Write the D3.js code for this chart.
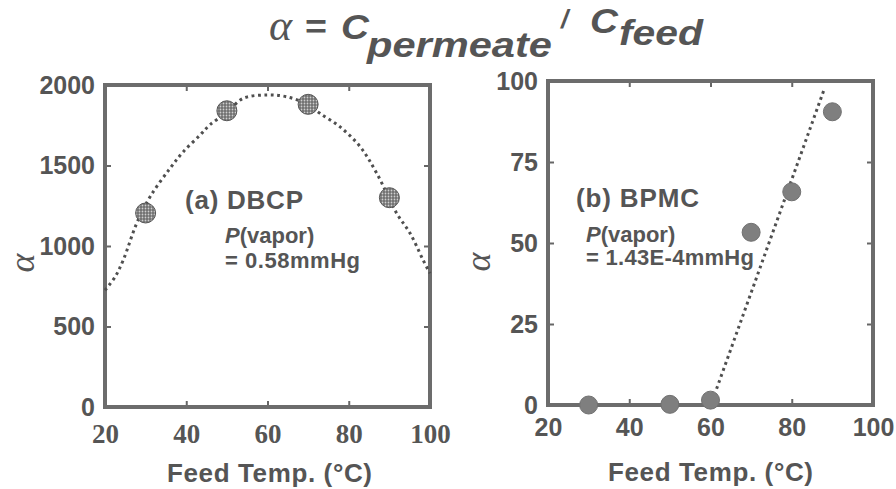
<!DOCTYPE html>
<html>
<head>
<meta charset="utf-8">
<script src="https://cdn.jsdelivr.net/npm/d3@7"></script>
<style>
  body { margin: 0; background: #fff; }
  text { fill: #555; }
</style>
</head>
<body>
<svg id="chart"></svg>
<script>
// Data
const temps = [30, 50, 70, 90];
const dbcpAlpha = [1205, 1840, 1880, 1300];
// dotted fit curve for DBCP
const dbcpCurveT = [20, 22.5, 24.5, 27.8, 31.1, 36, 39.3, 43.4, 45.8, 50, 54, 59.8, 64.7, 70, 72.9, 77.8, 82.8, 86.9, 91.8, 95.1, 98.3, 100];
const dbcpCurveA = [725, 809, 913, 1141, 1306, 1482, 1586, 1689, 1752, 1830, 1917, 1938, 1927, 1878, 1824, 1741, 1617, 1451, 1203, 1079, 913, 830];

const bpmcTemps = [30, 50, 60, 70, 80, 90];
const bpmcAlpha = [0, 0.2, 1.5, 53.3, 65.8, 90.5];
const bpmcLineT = [61.5, 88];
const bpmcLineA = [5, 97.5];

const xTicks = [20, 40, 60, 80, 100];
const dbcpTicks = [0, 500, 1000, 1500, 2000];
const bpmcTicks = [0, 25, 50, 75, 100];

const width = 896, height = 489;
const svg = d3.select("#chart").attr("width", width).attr("height", height);
svg.append("rect").attr("width", width).attr("height", height).attr("fill", "#fff");

// stippled fill for the DBCP markers
const pat = svg.append("defs").append("pattern")
    .attr("id", "stipple")
    .attr("patternUnits", "userSpaceOnUse")
    .attr("width", 3).attr("height", 3);
pat.append("rect").attr("width", 3).attr("height", 3).attr("fill", "#6f6f6f");
pat.append("circle").attr("cx", 1.5).attr("cy", 1.5).attr("r", 0.9).attr("fill", "#cfcfcf");

const sans = "'Liberation Sans', Arial, sans-serif";
const serif = "'Liberation Serif', 'Times New Roman', serif";

// Title: alpha = C_permeate / C_feed
const title = svg.append("g");
title.append("text").attr("x", 269).attr("y", 40)
    .style("font-family", serif).attr("font-style", "italic").attr("font-size", 44).text("α");
title.append("text").attr("x", 305).attr("y", 38)
    .style("font-family", sans).attr("font-weight", "bold").attr("font-size", 34)
    .attr("textLength", 22).attr("lengthAdjust", "spacingAndGlyphs").text("=");
title.append("text").attr("x", 341).attr("y", 39)
    .style("font-family", sans).attr("font-weight", "bold").attr("font-style", "italic").attr("font-size", 35)
    .attr("textLength", 28).attr("lengthAdjust", "spacingAndGlyphs").text("C");
title.append("text").attr("x", 367).attr("y", 57)
    .style("font-family", sans).attr("font-weight", "bold").attr("font-style", "italic").attr("font-size", 35)
    .attr("textLength", 185).attr("lengthAdjust", "spacingAndGlyphs").text("permeate");
title.append("text").attr("x", 561).attr("y", 28)
    .style("font-family", sans).attr("font-weight", "bold").attr("font-style", "italic").attr("font-size", 26).text("/");
title.append("text").attr("x", 590).attr("y", 33)
    .style("font-family", sans).attr("font-weight", "bold").attr("font-style", "italic").attr("font-size", 35)
    .attr("textLength", 28).attr("lengthAdjust", "spacingAndGlyphs").text("C");
title.append("text").attr("x", 619).attr("y", 45)
    .style("font-family", sans).attr("font-weight", "bold").attr("font-style", "italic").attr("font-size", 35)
    .attr("textLength", 84).attr("lengthAdjust", "spacingAndGlyphs").text("feed");

function panel(opt) {
    const x = d3.scaleLinear().domain([20, 100]).range([opt.left, opt.right]);
    const y = d3.scaleLinear().domain(opt.yDomain).range([opt.bottom, opt.top]);
    const g = svg.append("g");

    // inward ticks on all four sides
    const tickStyle = sel => {
        sel.select(".domain").remove();
        sel.selectAll(".tick line").attr("stroke", "#666").attr("stroke-width", 2);
    };
    g.append("g").attr("transform", `translate(0,${opt.bottom})`)
        .call(d3.axisBottom(x).tickValues(xTicks).tickSizeInner(-6).tickSizeOuter(0).tickPadding(16).tickFormat(d3.format("d")))
        .call(tickStyle)
        .call(s => s.selectAll("text")
            .style("font-family", opt.xSerif ? serif : sans)
            .style("font-weight", "bold").style("font-size", opt.xSerif ? "27px" : "25px")
            .style("fill", "#555").attr("dy", opt.xDy));
    g.append("g").attr("transform", `translate(0,${opt.top})`)
        .call(d3.axisTop(x).tickValues(xTicks).tickSizeInner(-6).tickSizeOuter(0).tickFormat(""))
        .call(tickStyle);
    g.append("g").attr("transform", `translate(${opt.left},0)`)
        .call(d3.axisLeft(y).tickValues(opt.yTicks).tickSizeInner(-6).tickSizeOuter(0).tickPadding(10).tickFormat(d3.format("d")))
        .call(tickStyle)
        .call(s => s.selectAll("text")
            .style("font-family", sans).style("font-weight", "bold").style("font-size", "25px")
            .style("fill", "#555"));
    g.append("g").attr("transform", `translate(${opt.right},0)`)
        .call(d3.axisRight(y).tickValues(opt.yTicks).tickSizeInner(-6).tickSizeOuter(0).tickFormat(""))
        .call(tickStyle);

    // frame
    g.append("rect")
        .attr("x", opt.left).attr("y", opt.top)
        .attr("width", opt.right - opt.left).attr("height", opt.bottom - opt.top)
        .attr("fill", "none").attr("stroke", "#6c6c6c").attr("stroke-width", 4);

    // dotted fit line
    const line = d3.line().x(d => x(d[0])).y(d => y(d[1])).curve(opt.curve);
    g.append("path")
        .attr("d", line(d3.zip(opt.lineX, opt.lineY)))
        .attr("fill", "none").attr("stroke", "#4f4f4f")
        .attr("stroke-width", 3).attr("stroke-dasharray", "2.8 3.6");

    // markers
    g.selectAll("circle.pt")
        .data(d3.zip(opt.ptX, opt.ptY))
        .join("circle")
        .attr("class", "pt")
        .attr("cx", d => x(d[0])).attr("cy", d => y(d[1]))
        .attr("r", opt.r)
        .attr("fill", opt.fill).attr("stroke", opt.stroke).attr("stroke-width", 1);

    // axis titles
    g.append("text")
        .attr("transform", `translate(${opt.alphaX},${opt.alphaY}) rotate(-90)`)
        .attr("text-anchor", "middle").attr("dominant-baseline", "central")
        .style("font-family", serif).attr("font-style", "italic").attr("font-size", 36)
        .text("α");
    g.append("text")
        .attr("x", (opt.left + opt.right) / 2 + opt.xLabelShift).attr("y", opt.xLabelY)
        .attr("text-anchor", "middle")
        .style("font-family", sans).attr("font-weight", "bold").attr("font-size", 26)
        .attr("textLength", 205)
        .text("Feed Temp. (°C)");

    // annotations
    g.append("text").attr("x", opt.name[0]).attr("y", opt.name[1])
        .style("font-family", sans).attr("font-weight", "bold").attr("font-size", 26)
        .attr("textLength", opt.name[3])
        .text(opt.name[2]);
    const pv = g.append("text").attr("x", opt.pv[0]).attr("y", opt.pv[1])
        .style("font-family", sans).attr("font-weight", "bold").attr("font-size", 22);
    pv.append("tspan").attr("font-style", "italic").text("P");
    pv.append("tspan").text("(vapor)");
    g.append("text").attr("x", opt.pv[0]).attr("y", opt.pv[2])
        .style("font-family", sans).attr("font-weight", "bold").attr("font-size", 22)
        .attr("textLength", opt.pv[4])
        .text(opt.pv[3]);
}

panel({
    left: 105, right: 430, top: 85, bottom: 407,
    yDomain: [0, 2000], yTicks: dbcpTicks,
    xSerif: true, xDy: "0.75em",
    lineX: dbcpCurveT, lineY: dbcpCurveA, curve: d3.curveCatmullRom,
    ptX: temps, ptY: dbcpAlpha, r: 10, fill: "url(#stipple)", stroke: "#555",
    alphaX: 22, alphaY: 263,
    xLabelY: 482, xLabelShift: 2,
    name: [185, 209, "(a) DBCP", 118],
    pv: [225, 243, 268, "= 0.58mmHg", 135]
});

panel({
    left: 548, right: 873, top: 81, bottom: 405,
    yDomain: [0, 100], yTicks: bpmcTicks,
    xSerif: false, xDy: "0.6em",
    lineX: bpmcLineT, lineY: bpmcLineA, curve: d3.curveLinear,
    ptX: bpmcTemps, ptY: bpmcAlpha, r: 9, fill: "#7f7f7f", stroke: "#707070",
    alphaX: 478, alphaY: 262,
    xLabelY: 481, xLabelShift: 0,
    name: [576, 207, "(b) BPMC", 123],
    pv: [586, 242, 265, "= 1.43E-4mmHg", 168]
});
</script>
</body>
</html>
